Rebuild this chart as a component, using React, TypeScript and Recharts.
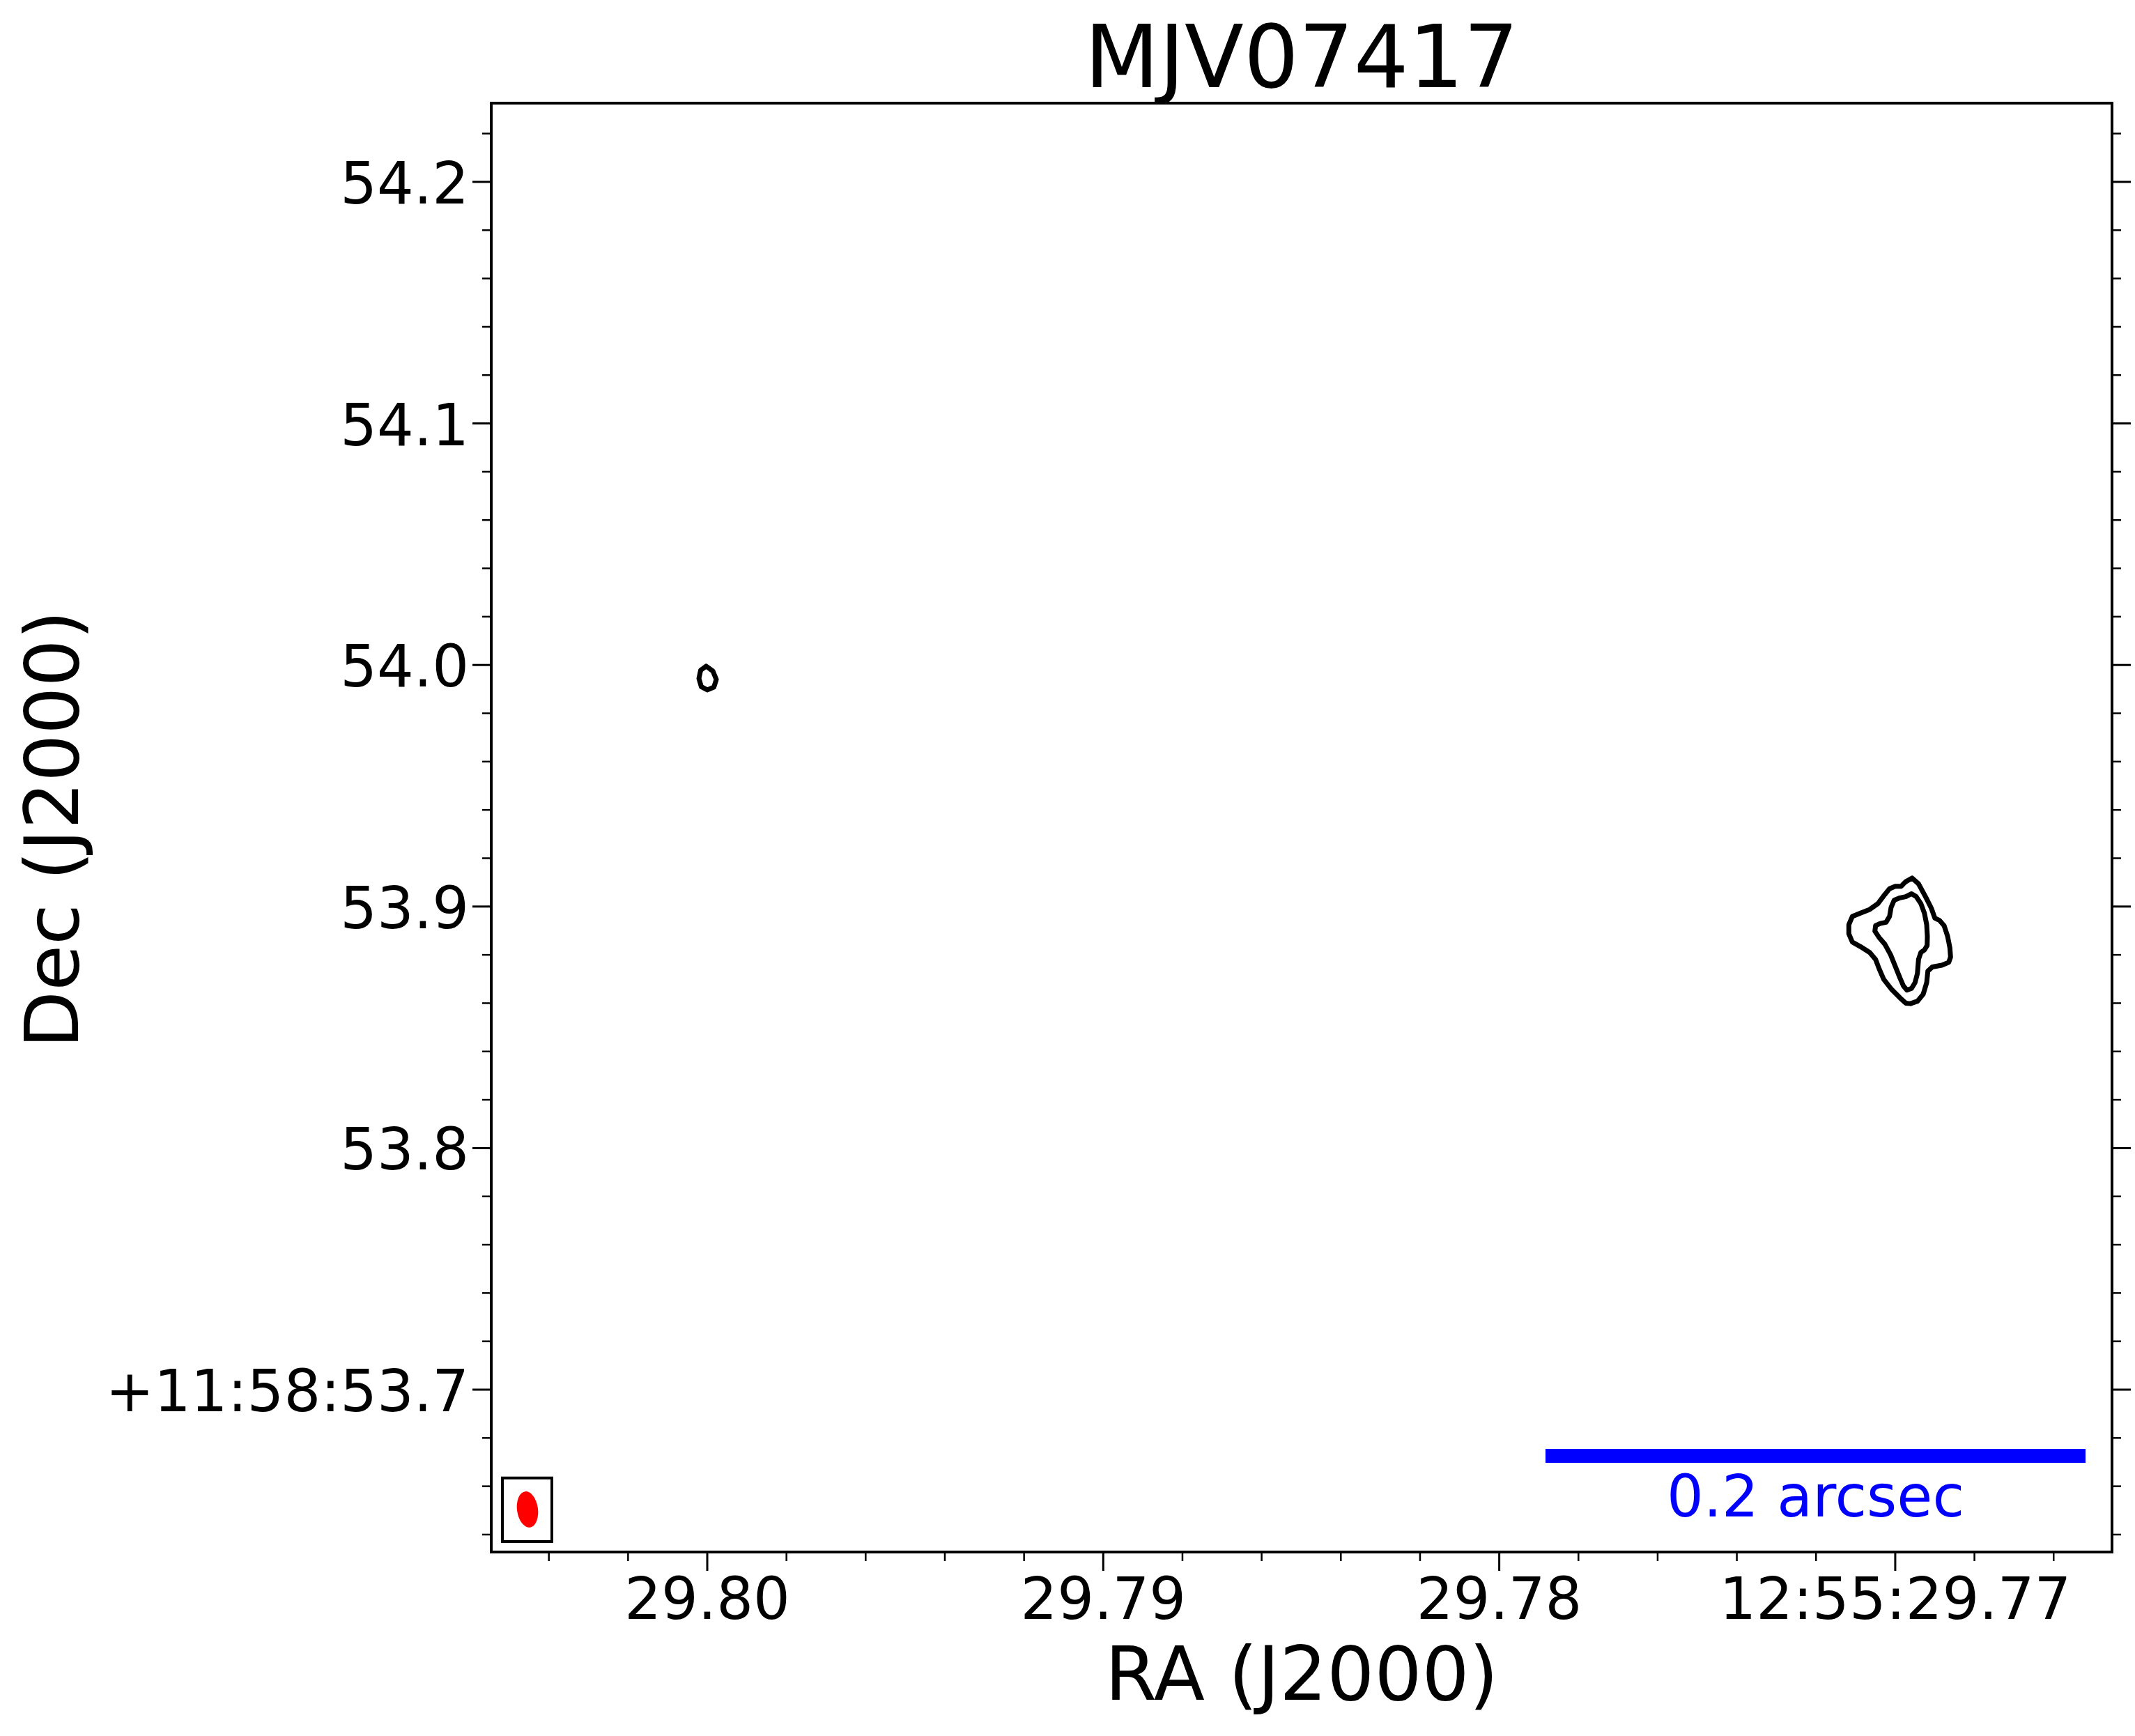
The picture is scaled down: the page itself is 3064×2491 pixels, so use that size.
import { ComposedChart, XAxis, YAxis, Line, ReferenceArea, ReferenceLine, ReferenceDot, Label } from 'recharts';

const FONT = '"DejaVu Sans", sans-serif';

// RA is in seconds of time (12:55:xx.xx), Dec in arcsec (+11:58:xx.x)
const raMajor = [29.8, 29.79, 29.78, 29.77];
const raMajorLabels = ['29.80', '29.79', '29.78', '12:55:29.77'];
const raMinor = [29.804, 29.802, 29.798, 29.796, 29.794, 29.792, 29.788, 29.786, 29.784, 29.782, 29.778, 29.776, 29.774, 29.772, 29.768, 29.766];

const decMajor = [53.7, 53.8, 53.9, 54.0, 54.1, 54.2];
const decMajorLabels = ['+11:58:53.7', '53.8', '53.9', '54.0', '54.1', '54.2'];
const decMinor = [53.64, 53.66, 53.68, 53.72, 53.74, 53.76, 53.78, 53.82, 53.84, 53.86, 53.88, 53.92, 53.94, 53.96, 53.98, 54.02, 54.04, 54.06, 54.08, 54.12, 54.14, 54.16, 54.18, 54.22];

const raDomain = [29.764526, 29.805455];
const decDomain = [53.63278, 54.2326];

// faint knot near 29.80
const knotContour = [
  { ra: 29.80003, dec: 53.9995 },
  { ra: 29.799859, dec: 53.9975 },
  { ra: 29.799771, dec: 53.994 },
  { ra: 29.799833, dec: 53.9908 },
  { ra: 29.8, dec: 53.9897 },
  { ra: 29.80015, dec: 53.991 },
  { ra: 29.800211, dec: 53.9944 },
  { ra: 29.800167, dec: 53.9978 },
];

// main source, lower contour level
const coreOuterContour = [
  { ra: 29.769576, dec: 53.9118 },
  { ra: 29.769412, dec: 53.9094 },
  { ra: 29.769236, dec: 53.9041 },
  { ra: 29.769088, dec: 53.8993 },
  { ra: 29.769, dec: 53.8952 },
  { ra: 29.768884, dec: 53.8943 },
  { ra: 29.768766, dec: 53.8921 },
  { ra: 29.768678, dec: 53.8877 },
  { ra: 29.76862, dec: 53.8829 },
  { ra: 29.768603, dec: 53.8791 },
  { ra: 29.768649, dec: 53.8769 },
  { ra: 29.768825, dec: 53.8757 },
  { ra: 29.76906, dec: 53.875 },
  { ra: 29.769176, dec: 53.8733 },
  { ra: 29.769206, dec: 53.8685 },
  { ra: 29.769294, dec: 53.8637 },
  { ra: 29.76944, dec: 53.8608 },
  { ra: 29.769616, dec: 53.8598 },
  { ra: 29.769734, dec: 53.86 },
  { ra: 29.76988, dec: 53.8622 },
  { ra: 29.770086, dec: 53.8656 },
  { ra: 29.770292, dec: 53.8699 },
  { ra: 29.770408, dec: 53.8743 },
  { ra: 29.770496, dec: 53.8781 },
  { ra: 29.770644, dec: 53.881 },
  { ra: 29.770878, dec: 53.8834 },
  { ra: 29.771084, dec: 53.8853 },
  { ra: 29.771172, dec: 53.8887 },
  { ra: 29.771172, dec: 53.8925 },
  { ra: 29.771084, dec: 53.8959 },
  { ra: 29.770878, dec: 53.8973 },
  { ra: 29.770644, dec: 53.8988 },
  { ra: 29.770438, dec: 53.9012 },
  { ra: 29.770262, dec: 53.905 },
  { ra: 29.770144, dec: 53.9074 },
  { ra: 29.769998, dec: 53.9084 },
  { ra: 29.769852, dec: 53.9084 },
  { ra: 29.769734, dec: 53.9103 },
];

// main source, higher contour level
const coreInnerContour = [
  { ra: 29.769588, dec: 53.9053 },
  { ra: 29.76947, dec: 53.9041 },
  { ra: 29.769352, dec: 53.9012 },
  { ra: 29.769264, dec: 53.8973 },
  { ra: 29.769206, dec: 53.8925 },
  { ra: 29.769189, dec: 53.8877 },
  { ra: 29.769194, dec: 53.8839 },
  { ra: 29.769264, dec: 53.882 },
  { ra: 29.769352, dec: 53.881 },
  { ra: 29.769412, dec: 53.8781 },
  { ra: 29.76944, dec: 53.8723 },
  { ra: 29.7695, dec: 53.8685 },
  { ra: 29.769588, dec: 53.8661 },
  { ra: 29.769705, dec: 53.8654 },
  { ra: 29.769792, dec: 53.8671 },
  { ra: 29.76988, dec: 53.8704 },
  { ra: 29.769998, dec: 53.8752 },
  { ra: 29.770116, dec: 53.88 },
  { ra: 29.770262, dec: 53.8844 },
  { ra: 29.770408, dec: 53.8872 },
  { ra: 29.770514, dec: 53.8898 },
  { ra: 29.770496, dec: 53.8921 },
  { ra: 29.77038, dec: 53.893 },
  { ra: 29.770232, dec: 53.8935 },
  { ra: 29.770144, dec: 53.8959 },
  { ra: 29.770104, dec: 53.8997 },
  { ra: 29.770028, dec: 53.9026 },
  { ra: 29.76988, dec: 53.9036 },
  { ra: 29.769734, dec: 53.9041 },
];

const beam = { ra: 29.80454, dec: 53.6504 };
const beamBox = { ra1: 29.805173, ra2: 29.803924, dec1: 53.6371, dec2: 53.6634 };
const scaleBar = { ra1: 29.778832, ra2: 29.765195, dec: 53.6726, label: '0.2 arcsec' };

const majorIndex = (list: number[], v: number) => list.findIndex((m) => Math.abs(m - v) < 1e-7);

function BottomTick({ x, y, payload }: any) {
  const i = majorIndex(raMajor, payload.value);
  const major = i >= 0;
  return (
    <g>
      <line x1={x} x2={x} y1={y} y2={y + (major ? 27 : 13)} stroke="#000" strokeWidth={major ? 3 : 2.5} />
      {major && (
        <text x={x} y={y + 96} textAnchor="middle" fontSize={83} fontFamily={FONT} fill="#000">
          {raMajorLabels[i]}
        </text>
      )}
    </g>
  );
}

function TopTick({ x, y, payload }: any) {
  const major = majorIndex(raMajor, payload.value) >= 0;
  return <line x1={x} x2={x} y1={y} y2={y - (major ? 27 : 13)} stroke="#000" strokeWidth={major ? 3 : 2.5} />;
}

function LeftTick({ x, y, payload }: any) {
  const i = majorIndex(decMajor, payload.value);
  const major = i >= 0;
  return (
    <g>
      <line x1={x - (major ? 27 : 13)} x2={x} y1={y} y2={y} stroke="#000" strokeWidth={major ? 3 : 2.5} />
      {major && (
        <text x={x - 32} y={y + 31} textAnchor="end" fontSize={83} fontFamily={FONT} fill="#000">
          {decMajorLabels[i]}
        </text>
      )}
    </g>
  );
}

function RightTick({ x, y, payload }: any) {
  const major = majorIndex(decMajor, payload.value) >= 0;
  return <line x1={x} x2={x + (major ? 27 : 13)} y1={y} y2={y} stroke="#000" strokeWidth={major ? 3 : 2.5} />;
}

const frame = { stroke: '#000', strokeWidth: 4, strokeLinecap: 'square' as const };

export default function App() {
  const raTicks = [...raMinor, ...raMajor];
  const decTicks = [...decMinor, ...decMajor];
  return (
    <div style={{ position: 'absolute', left: 0, top: 0, width: 3064, height: 2491, background: '#fff' }}>
      <ComposedChart width={3064} height={2491} margin={{ top: 147, right: 32, bottom: 263, left: 704 }}>
        <XAxis
          xAxisId={0}
          dataKey="ra"
          type="number"
          domain={raDomain}
          allowDataOverflow
          reversed
          ticks={raTicks}
          interval={0}
          height={1}
          tickSize={0}
          tickMargin={0}
          tickLine={false}
          axisLine={frame}
          tick={BottomTick}
        />
        <XAxis
          xAxisId="top"
          orientation="top"
          type="number"
          domain={raDomain}
          allowDataOverflow
          reversed
          ticks={raTicks}
          interval={0}
          height={1}
          tickSize={0}
          tickMargin={0}
          tickLine={false}
          axisLine={frame}
          tick={TopTick}
        />
        <YAxis
          yAxisId={0}
          dataKey="dec"
          type="number"
          domain={decDomain}
          allowDataOverflow
          ticks={decTicks}
          interval={0}
          width={1}
          tickSize={0}
          tickMargin={0}
          tickLine={false}
          axisLine={frame}
          tick={LeftTick}
        />
        <YAxis
          yAxisId="right"
          orientation="right"
          type="number"
          domain={decDomain}
          allowDataOverflow
          ticks={decTicks}
          interval={0}
          width={1}
          tickSize={0}
          tickMargin={0}
          tickLine={false}
          axisLine={frame}
          tick={RightTick}
        />

        <Line data={knotContour} dataKey="dec" type="linearClosed" stroke="#000" strokeWidth={7} strokeLinejoin="round" dot={false} activeDot={false} isAnimationActive={false} />
        <Line data={coreOuterContour} dataKey="dec" type="linearClosed" stroke="#000" strokeWidth={7} strokeLinejoin="round" dot={false} activeDot={false} isAnimationActive={false} />
        <Line data={coreInnerContour} dataKey="dec" type="linearClosed" stroke="#000" strokeWidth={7} strokeLinejoin="round" dot={false} activeDot={false} isAnimationActive={false} />

        <ReferenceArea x1={beamBox.ra1} x2={beamBox.ra2} y1={beamBox.dec1} y2={beamBox.dec2} fill="none" fillOpacity={0} stroke="#000" strokeWidth={4} />
        <ReferenceDot
          x={beam.ra}
          y={beam.dec}
          r={1}
          shape={(p: any) => (
            <ellipse cx={p.cx} cy={p.cy} rx={15} ry={26} fill="#ff0000" transform={`rotate(-8 ${p.cx} ${p.cy})`} />
          )}
        />
        <ReferenceLine
          segment={[{ x: scaleBar.ra1, y: scaleBar.dec }, { x: scaleBar.ra2, y: scaleBar.dec }]}
          stroke="#0000ff"
          strokeWidth={20}
        >
          <Label value={scaleBar.label} position="bottom" offset={28} fill="#0000ff" fontSize={83} fontFamily={FONT} />
        </ReferenceLine>
      </ComposedChart>
      <svg width={3064} height={2491} style={{ position: 'absolute', left: 0, top: 0, pointerEvents: 'none' }}>
        <text x={1868} y={125} textAnchor="middle" fontSize={124} fontFamily={FONT} fill="#000">MJV07417</text>
        <text x={1868} y={2439} textAnchor="middle" fontSize={107} fontFamily={FONT} fill="#000">RA (J2000)</text>
        <text transform="translate(112,1190) rotate(-90)" textAnchor="middle" fontSize={107} fontFamily={FONT} fill="#000">Dec (J2000)</text>
      </svg>
    </div>
  );
}
